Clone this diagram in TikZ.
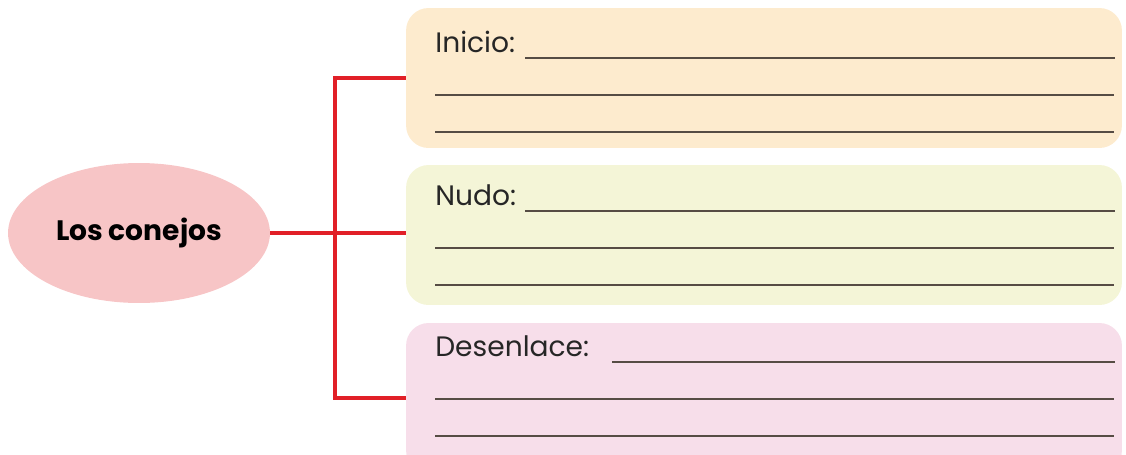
\documentclass[tikz,border=0pt]{standalone}
\usepackage{fontspec}
\setmainfont{Poppins}
\usetikzlibrary{shapes.geometric}
\definecolor{rosa}{HTML}{F7C5C6}
\definecolor{naranja}{HTML}{FDEBCE}
\definecolor{lima}{HTML}{F4F5D7}
\definecolor{malva}{HTML}{F7DEEA}
\definecolor{rojo}{HTML}{E11F27}
\definecolor{tinta}{HTML}{564C44}
\begin{document}
\begin{tikzpicture}[x=0.02cm, y=-0.02cm]
                \tikzstyle{topic}=[
                    ellipse, fill=rosa, minimum width=5.24cm,
                    minimum height=2.8cm, inner sep=0pt,
                    font=\fontsize{16}{19}\selectfont\bfseries]
                \tikzstyle{panel}=[
                    rectangle, rounded corners=0.45cm, minimum width=14.32cm,
                    minimum height=2.8cm, inner sep=0pt]
                \tikzstyle{link}=[draw=rojo, line width=2.3pt]
                \tikzstyle{rule}=[draw=tinta, line width=1.1pt]
                \tikzstyle{caption}=[anchor=base west, inner sep=0pt,
                    text=black!85, font=\fontsize{16}{19}\selectfont]
                \useasboundingbox (0,0) rectangle (1126,454);

                \node [topic] (T) at (139,233) {Los conejos};

                \node [panel, fill=naranja] (P-1) at (764,78) {};
                \node [panel, fill=lima] (P-2) at (764,235) {};
                \node [panel, fill=malva, minimum height=3cm] (P-3) at (764,398) {};

                \coordinate (J) at (335,233);
                \path [link] (T.east) -- (T.east -| P-2.west);
                \path [link] (P-1.west) -| (J) |- (P-3.west);

                \foreach \name / \y / \txt / \x in
                    {1/58/Inicio:/525, 2/211/Nudo:/525, 3/362/Desenlace:/612} {
                    \node [caption] (C-\name) at (435,\y-6) {\txt};
                    \draw [rule] (\x,\y) -- (1115,\y);
                    \draw [rule] (435,\y+37) -- (1114,\y+37);
                    \draw [rule] (435,\y+74) -- (1114,\y+74);
                }
            \end{tikzpicture}
\end{document}
